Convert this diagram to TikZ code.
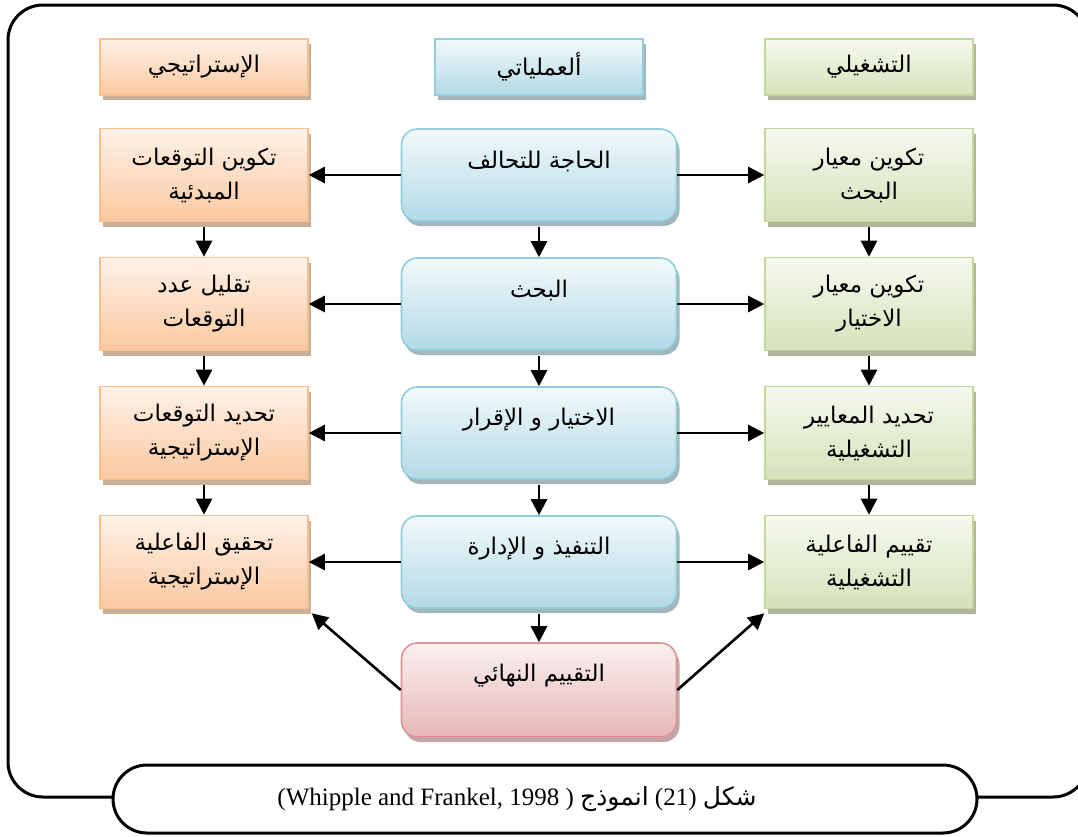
\documentclass[tikz,border=0pt]{standalone}
\usepackage{fontspec}
\setmainfont{Liberation Serif}
\newfontfamily\arabicfont[Script=Arabic]{DejaVu Sans}
\TeXXeTstate=1
\usetikzlibrary{arrows.meta,shadows}
\newcommand{\artext}[1]{{\arabicfont\beginR #1\endR}}

% palette
\definecolor{orTop}{HTML}{FEF2E8}
\definecolor{orBot}{HTML}{FBC8A0}
\definecolor{orLine}{HTML}{FAC090}
\definecolor{orShade}{HTML}{C9AE98}
\definecolor{blTop}{HTML}{F2F9FB}
\definecolor{blBot}{HTML}{B2DAE6}
\definecolor{blLine}{HTML}{93CDDD}
\definecolor{blShade}{HTML}{A2B6BC}
\definecolor{grTop}{HTML}{F6F9EF}
\definecolor{grBot}{HTML}{D5E2BA}
\definecolor{grLine}{HTML}{C3D69B}
\definecolor{grShade}{HTML}{B0B79C}
\definecolor{pkTop}{HTML}{FBF0F0}
\definecolor{pkBot}{HTML}{E6B8B7}
\definecolor{pkLine}{HTML}{D99694}
\definecolor{pkShade}{HTML}{C0A8A8}

\tikzset{
  x=1pt, y=-1pt,
  basebox/.style={line width=1.6pt, align=center, inner sep=0pt,
    font=\fontsize{23}{34}\selectfont},
  shadowed/.style={general shadow={shadow xshift=3pt, shadow yshift=-5pt, fill=#1}},
  orbox/.style={basebox, draw=orLine, top color=orTop, bottom color=orBot,
    minimum width=208pt, minimum height=93pt, shadowed=orShade},
  grbox/.style={basebox, draw=grLine, top color=grTop, bottom color=grBot,
    minimum width=208pt, minimum height=93pt, shadowed=grShade},
  blbox/.style={basebox, draw=blLine, top color=blTop, bottom color=blBot,
    rounded corners=16pt, minimum width=275pt, minimum height=92pt, shadowed=blShade},
  pkbox/.style={basebox, draw=pkLine, top color=pkTop, bottom color=pkBot,
    rounded corners=16pt, minimum width=275pt, minimum height=94pt, shadowed=pkShade},
  orhead/.style={orbox, minimum height=56pt},
  blhead/.style={basebox, draw=blLine, top color=blTop, bottom color=blBot,
    minimum width=208pt, minimum height=56pt, shadowed=blShade},
  grhead/.style={grbox, minimum height=56pt},
  lbl/.style={font=\fontsize{23}{34}\selectfont, inner sep=0pt},
  arr/.style={line width=2.6pt, -{Triangle[length=16pt,width=16pt]}},
  frame/.style={line width=3pt, rounded corners=35pt},
}

\begin{document}
\begin{tikzpicture}
\useasboundingbox (0,0) rectangle (1078,836);
\clip (0,0) rectangle (1078,836);

% outer frame and caption
\draw[frame] (113,797) -- (8,797) -- (8,5) -- (1088,5) -- (1088,797) -- (977,797);
\node[draw, line width=3pt, rounded corners=34pt, minimum width=864pt,
      minimum height=68pt, fill=white] (cap) at (545,799) {};
\node[font=\fontsize{25}{28}\selectfont, inner sep=0pt] (captext) at (517,799)
  {(Whipple and Frankel, 1998 ) \artext{انموذج} (21) \artext{شكل}};

% column headers
\node[orhead] (hl) at (204,67) {\artext{الإستراتيجي}};
\node[blhead] (hc) at (539,67) {\artext{ألعملياتي}};
\node[grhead] (hr) at (869,67) {\artext{التشغيلي}};

% strategic column
\node[orbox] (l1) at (204,175) {\artext{تكوين التوقعات}\\\artext{المبدئية}};
\node[orbox] (l2) at (204,304) {\artext{تقليل عدد}\\\artext{التوقعات}};
\node[orbox] (l3) at (204,433) {\artext{تحديد التوقعات}\\\artext{الإستراتيجية}};
\node[orbox] (l4) at (204,562) {\artext{تحقيق الفاعلية}\\\artext{الإستراتيجية}};

% operational column
\node[grbox] (r1) at (869,175) {\artext{تكوين معيار}\\\artext{البحث}};
\node[grbox] (r2) at (869,304) {\artext{تكوين معيار}\\\artext{الاختيار}};
\node[grbox] (r3) at (869,433) {\artext{تحديد المعايير}\\\artext{التشغيلية}};
\node[grbox] (r4) at (869,562) {\artext{تقييم الفاعلية}\\\artext{التشغيلية}};

% process column
\node[blbox] (c1) at (539,175) {};
\node[blbox] (c2) at (539,304) {};
\node[blbox] (c3) at (539,433) {};
\node[blbox] (c4) at (539,562) {};
\node[pkbox] (c5) at (539,690) {};
\node[lbl] (t1) at ([yshift=-33pt]c1.north) {\artext{الحاجة للتحالف}};
\node[lbl] (t2) at ([yshift=-33pt]c2.north) {\artext{البحث}};
\node[lbl] (t3) at ([yshift=-33pt]c3.north) {\artext{الاختيار و الإقرار}};
\node[lbl] (t4) at ([yshift=-33pt]c4.north) {\artext{التنفيذ و الإدارة}};
\node[lbl] (t5) at ([yshift=-33pt]c5.north) {\artext{التقييم النهائي}};

% horizontal links
\foreach \i in {1,2,3,4}{
  \draw[arr] (c\i.west) -- (l\i.east);
  \draw[arr] (c\i.east) -- (r\i.west);
}
% vertical links
\foreach \a/\b in {1/2,2/3,3/4}{
  \draw[arr] ([yshift=-5pt]l\a.south) -- (l\b.north);
  \draw[arr] ([yshift=-5pt]r\a.south) -- (r\b.north);
  \draw[arr] ([yshift=-5pt]c\a.south) -- (c\b.north);
}
\draw[arr] ([yshift=-5pt]c4.south) -- (c5.north);
% final evaluation feeds both outcome boxes
\draw[arr] (c5.west) -- ([xshift=3pt,yshift=-4pt]l4.south east);
\draw[arr] (c5.east) -- ([yshift=-4pt]r4.south west);
\end{tikzpicture}
\end{document}
